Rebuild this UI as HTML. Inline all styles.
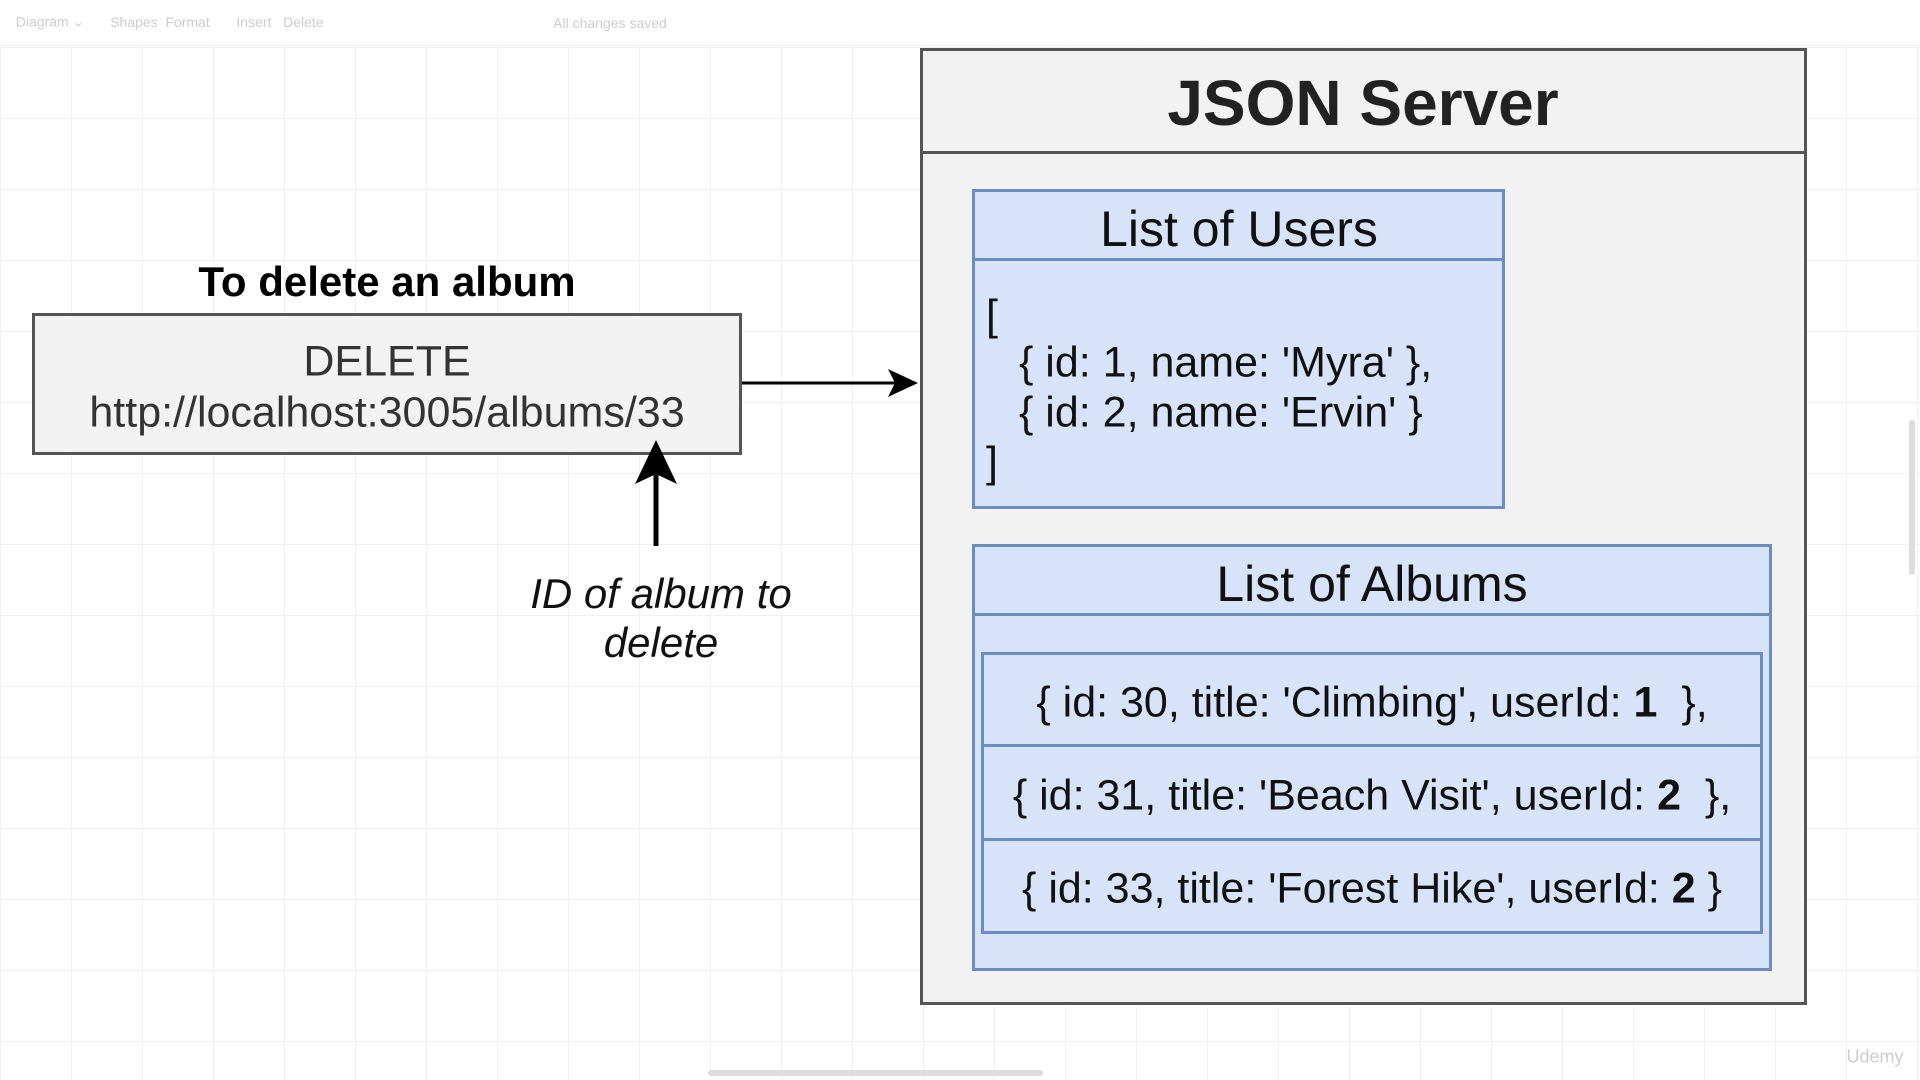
<!DOCTYPE html>
<html><head><meta charset="utf-8"><style>
body{margin:0;width:1920px;height:1080px;overflow:hidden;background:#fff;font-family:"Liberation Sans",sans-serif;position:relative;
background-image:linear-gradient(#f1f1f1 1px,transparent 1px),linear-gradient(90deg,#f1f1f1 1px,transparent 1px);background-size:71px 71px;background-position:0 47px}
.a{position:absolute;box-sizing:border-box}
.t{position:absolute;white-space:nowrap;transform:translate(-50%,-50%);color:#222}
.l{position:absolute;white-space:nowrap;transform:translateY(-50%);color:#111;font-size:43px}
.bl{background:#d6e3f8;border:3px solid #6c8ebf}
</style></head><body>
<div class="a" style="left:0;top:0;width:1920px;height:46px;background:#fff;border-bottom:1px solid #eee"></div>
<div class="t" style="left:50px;top:22px;font-size:14px;color:#ccc">Diagram ⌄</div>
<div class="t" style="left:160px;top:22px;font-size:14px;color:#ccc">Shapes&nbsp;&nbsp;Format</div>
<div class="t" style="left:280px;top:22px;font-size:14px;color:#ccc">Insert&nbsp;&nbsp;&nbsp;Delete</div>
<div class="t" style="left:610px;top:23px;font-size:14px;color:#ccc">All changes saved</div>

<div class="t" style="left:387px;top:282px;font-size:42px;font-weight:bold;color:#000">To delete an album</div>
<div class="a" style="left:32px;top:313px;width:710px;height:142px;background:#f2f2f2;border:3px solid #555"></div>
<div class="t" style="left:387px;top:362px;font-size:43px;color:#333">DELETE</div>
<div class="t" style="left:387px;top:413px;font-size:43px;color:#333">http://localhost:3005/albums/33</div>

<svg class="a" style="left:0;top:0" width="1920" height="1080">
<line x1="742" y1="383" x2="900" y2="383" stroke="#000" stroke-width="3"/>
<polygon points="918,383 888,369 895,383 888,397" fill="#000"/>
<line x1="656" y1="546" x2="656" y2="465" stroke="#000" stroke-width="5"/>
<polygon points="656,440 635,484 656,474 677,484" fill="#000"/>
</svg>
<div class="t" style="left:661px;top:594px;font-size:42px;font-style:italic;color:#111">ID of album to</div>
<div class="t" style="left:661px;top:643px;font-size:42px;font-style:italic;color:#111">delete</div>

<div class="a" style="left:920px;top:48px;width:887px;height:957px;background:#f2f2f2;border:3px solid #555"></div>
<div class="a" style="left:920px;top:151px;width:887px;height:3px;background:#555"></div>
<div class="t" style="left:1363px;top:103px;font-size:64px;font-weight:bold;color:#222">JSON Server</div>

<div class="a bl" style="left:972px;top:189px;width:533px;height:320px"></div>
<div class="a" style="left:972px;top:258px;width:533px;height:3px;background:#6c8ebf"></div>
<div class="t" style="left:1239px;top:229px;font-size:50px;color:#111">List of Users</div>
<div class="l" style="left:986px;top:316px">[</div>
<div class="l" style="left:1019px;top:363px">{ id: 1, name: 'Myra' },</div>
<div class="l" style="left:1019px;top:413px">{ id: 2, name: 'Ervin' }</div>
<div class="l" style="left:986px;top:463px">]</div>

<div class="a bl" style="left:972px;top:544px;width:800px;height:427px"></div>
<div class="a" style="left:972px;top:613px;width:800px;height:3px;background:#6c8ebf"></div>
<div class="t" style="left:1372px;top:584px;font-size:50px;color:#111">List of Albums</div>
<div class="a bl" style="left:981px;top:652px;width:782px;height:282px"></div>
<div class="a" style="left:981px;top:744px;width:782px;height:3px;background:#6c8ebf"></div>
<div class="a" style="left:981px;top:838px;width:782px;height:3px;background:#6c8ebf"></div>
<div class="t" style="left:1372px;top:703px;font-size:43px;color:#111">{ id: 30, title: 'Climbing', userId: <b>1</b>&nbsp; },</div>
<div class="t" style="left:1372px;top:796px;font-size:43px;color:#111">{ id: 31, title: 'Beach Visit', userId: <b>2</b>&nbsp; },</div>
<div class="t" style="left:1372px;top:889px;font-size:43px;color:#111">{ id: 33, title: 'Forest Hike', userId: <b>2</b> }</div>

<div class="a" style="left:708px;top:1070px;width:335px;height:6px;border-radius:3px;background:#ddd"></div>
<div class="a" style="left:1909px;top:420px;width:6px;height:155px;border-radius:3px;background:#ddd"></div>
<div class="t" style="left:1875px;top:1057px;font-size:18px;color:#ccc">Udemy</div>
</body></html>
